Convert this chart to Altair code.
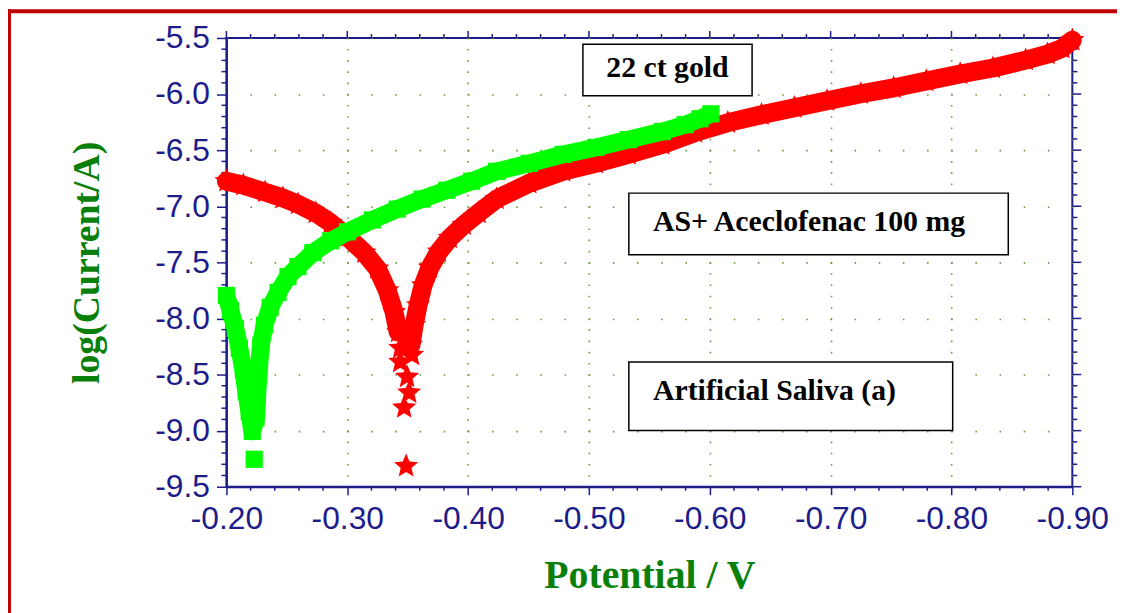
import altair as alt
import pandas as pd

# ---------------- data ----------------
# Red series (stars)
red_left_V = [-0.2000, -0.2140, -0.2320, -0.2468, -0.2592, -0.2739, -0.2863, -0.3002, -0.3142, -0.3249, -0.3331, -0.3388, -0.3421]
red_left_I = [-6.777, -6.812, -6.874, -6.927, -6.981, -7.060, -7.149, -7.273, -7.414, -7.556, -7.750, -7.945, -8.122]
red_tip_V = [-0.3438, -0.3536, -0.3438, -0.3495, -0.3512, -0.3471, -0.3487]
red_tip_I = [-8.264, -8.326, -8.388, -8.521, -8.662, -8.795, -9.317]
red_right_V = [-0.3528, -0.3553, -0.3586, -0.3627, -0.3684, -0.3758, -0.3849, -0.3964, -0.4087, -0.4235,
               -0.4506, -0.4785, -0.5056, -0.5327, -0.5607, -0.5878, -0.6149, -0.6428, -0.6700, -0.6971,
               -0.7250, -0.7521, -0.7792, -0.8072, -0.8343, -0.8614, -0.8795, -0.8918, -0.9000]
red_right_I = [-8.237, -8.060, -7.883, -7.706, -7.547, -7.405, -7.282, -7.166, -7.060, -6.936,
               -6.795, -6.688, -6.617, -6.538, -6.450, -6.343, -6.255, -6.184, -6.122, -6.060,
               -5.998, -5.945, -5.883, -5.821, -5.768, -5.697, -5.644, -5.591, -5.520]

# Green series (squares)
green_left_V = [-0.2000, -0.2033, -0.2074, -0.2107, -0.2140, -0.2164, -0.2189, -0.2214]
green_left_I = [-7.795, -7.929, -8.088, -8.265, -8.459, -8.654, -8.831, -9.007]
green_tip_V = [-0.2230]
green_tip_I = [-9.255]
green_right_V = [-0.2245, -0.2255, -0.2268, -0.2285, -0.2315, -0.2362, -0.2427, -0.2509, -0.2592, -0.2715,
                 -0.2863, -0.3002, -0.3208, -0.3413, -0.3619, -0.3824, -0.4029, -0.4235, -0.4506, -0.4785,
                 -0.5056, -0.5327, -0.5607, -0.5796, -0.5919, -0.6009]
green_right_I = [-8.884, -8.680, -8.459, -8.237, -8.060, -7.901, -7.768, -7.627, -7.538, -7.414,
                 -7.308, -7.228, -7.122, -7.025, -6.936, -6.857, -6.777, -6.689, -6.618, -6.538,
                 -6.476, -6.406, -6.334, -6.273, -6.220, -6.176]

# Annotation boxes (data units)
ann_text = ["22 ct gold", "AS+ Aceclofenac 100 mg", "Artificial Saliva (a)"]
box_V1 = [-0.495, -0.533, -0.533]
box_V2 = [-0.635, -0.847, -0.801]
box_L1 = [-5.556, -6.883, -8.388]
box_L2 = [-6.016, -7.432, -8.998]
text_V = [-0.565, -0.553, -0.553]
text_L = [-5.848, -7.225, -8.730]
text_align = ["center", "left", "left"]

# Axis tick values
x_major = [-0.20, -0.30, -0.40, -0.50, -0.60, -0.70, -0.80, -0.90]
x_minor = [round(-0.20 - 0.02 * k, 2) for k in range(36) if k % 5 != 0]
y_major = [-9.5, -9.0, -8.5, -8.0, -7.5, -7.0, -6.5, -6.0, -5.5]
y_minor = [round(-9.5 + 0.1 * k, 1) for k in range(41) if k % 5 != 0]

# ---------------- build tables ----------------
def piece(V, I):
    return pd.DataFrame({"V": V, "logI": I, "i": list(range(len(V)))})

red_pts = pd.DataFrame({"V": red_left_V + red_tip_V + red_right_V,
                        "logI": red_left_I + red_tip_I + red_right_I})
green_pts = pd.DataFrame({"V": green_left_V + green_tip_V + green_right_V,
                          "logI": green_left_I + green_tip_I + green_right_I})
ann = pd.DataFrame({"text": ann_text, "v1": box_V1, "v2": box_V2, "l1": box_L1, "l2": box_L2,
                    "tv": text_V, "tl": text_L, "al": text_align})

W, H = 852, 452
NAVY = "#1c1c8a"
GRIDC = "#6e9a3c"
TITLEC = "#0a800a"
STAR = ("M0,-1L0.2645,-0.3641L0.9511,-0.309L0.428,0.1391L0.5878,0.809L0,0.45"
        "L-0.5878,0.809L-0.428,0.1391L-0.9511,-0.309L-0.2645,-0.3641Z")

xs = alt.Scale(domain=[-0.9, -0.2], reverse=True, nice=False, zero=False)
ys = alt.Scale(domain=[-9.5, -5.5], nice=False, zero=False)

x_axis = alt.Axis(
    orient="bottom", values=x_major,
    labelExpr="'-' + format(abs(datum.value), '.2f')",
    labelFont="Liberation Sans", labelFontSize=32, labelColor=NAVY, labelPadding=9,
    labelFlush=False, labelOverlap=False,
    tickSize=8, tickWidth=1.5, tickColor=NAVY,
    domainColor=NAVY, domainWidth=2,
    grid=True, gridColor=GRIDC, gridWidth=1.6, gridDash=[1.6, 9.7], gridDashOffset=0.8,
    title="Potential / V", titleFont="Liberation Serif", titleFontWeight="bold",
    titleFontSize=40, titleColor=TITLEC, titleBaseline="alphabetic", titleY=101,
)
y_axis = alt.Axis(
    orient="left", values=y_major,
    labelExpr="'-' + format(abs(datum.value), '.1f')",
    labelFont="Liberation Sans", labelFontSize=32, labelColor=NAVY, labelPadding=7,
    labelFlush=False, labelOverlap=False,
    tickSize=10, tickWidth=1.5, tickColor=NAVY,
    domainColor=NAVY, domainWidth=2,
    grid=True, gridColor=GRIDC, gridWidth=1.6, gridDash=[1.6, 22.74], gridDashOffset=0.8,
    title="log(Current/A)", titleFont="Liberation Serif", titleFontWeight="bold",
    titleFontSize=38, titleColor=TITLEC, titleAngle=270, titleBaseline="middle",
    titleX=-140, titleY=226,
)

# other layers share the same scales and leave the axes to the first layer
def X(f):
    return alt.X(f, scale=xs)

def Y(f):
    return alt.Y(f, scale=ys)

def band(V, I, color, width, cap):
    return alt.Chart(piece(V, I)).mark_line(
        color=color, strokeWidth=width, strokeCap=cap, strokeJoin="round"
    ).encode(x=X("V:Q"), y=Y("logI:Q"), order="i:Q")

red_line_l = band(red_left_V, red_left_I, "#ff0000", 19, "round")
red_line_r = band(red_right_V, red_right_I, "#ff0000", 19, "round")
green_line = band(green_left_V + green_right_V, green_left_I + green_right_I, "#00ff00", 18, "butt")

red_star = alt.Chart(red_pts).mark_point(
    shape=STAR, filled=True, color="#ff0000", size=650, opacity=1
).encode(x=X("V:Q"), y=Y("logI:Q"))
green_sq = alt.Chart(green_pts).mark_point(
    shape="square", filled=True, color="#00ff00", size=300, opacity=1
).encode(x=X("V:Q"), y=Y("logI:Q"))

# carrier layer for the axes (first layer, holds the grid + axes)
axis_layer = alt.Chart(pd.DataFrame({"t": x_major[:1], "u": y_major[:1]})).mark_point(
    opacity=0
).encode(
    x=alt.X("t:Q", scale=xs, axis=x_axis),
    y=alt.Y("u:Q", scale=ys, axis=y_axis),
)

boxes = alt.Chart(ann).mark_rect(fill="white", stroke="black", strokeWidth=1.5).encode(
    x=X("v1:Q"), x2="v2:Q", y=Y("l1:Q"), y2="l2:Q",
)
labels_l = alt.Chart(ann).transform_filter("datum.al == 'left'").mark_text(
    font="Liberation Serif", fontWeight="bold", fontSize=30, color="black",
    align="left", baseline="alphabetic"
).encode(x=X("tv:Q"), y=Y("tl:Q"), text="text:N")
labels_c = alt.Chart(ann).transform_filter("datum.al == 'center'").mark_text(
    font="Liberation Serif", fontWeight="bold", fontSize=30, color="black",
    align="center", baseline="alphabetic"
).encode(x=X("tv:Q"), y=Y("tl:Q"), text="text:N")

# frame ticks (minor + mirrored)
xmaj_df = pd.DataFrame({"t": x_major})
xmin_df = pd.DataFrame({"t": x_minor})
ymaj_df = pd.DataFrame({"u": y_major})
ymin_df = pd.DataFrame({"u": y_minor})
tk = dict(color=NAVY, strokeWidth=1.5)
bottom_minor = alt.Chart(xmin_df).mark_rule(**tk).encode(x=X("t:Q"), y=alt.value(H), y2=alt.value(H + 4))
top_minor = alt.Chart(xmin_df).mark_rule(**tk).encode(x=X("t:Q"), y=alt.value(0), y2=alt.value(-4))
top_major = alt.Chart(xmaj_df).mark_rule(**tk).encode(x=X("t:Q"), y=alt.value(0), y2=alt.value(-7))
left_minor = alt.Chart(ymin_df).mark_rule(**tk).encode(y=Y("u:Q"), x=alt.value(0), x2=alt.value(-5))
right_minor = alt.Chart(ymin_df).mark_rule(**tk).encode(y=Y("u:Q"), x=alt.value(W), x2=alt.value(W + 5))
right_major = alt.Chart(ymaj_df).mark_rule(**tk).encode(y=Y("u:Q"), x=alt.value(W), x2=alt.value(W + 9))

one = pd.DataFrame({"a": [0]})
border_top = alt.Chart(one).mark_rule(color="#c00000", strokeWidth=4).encode(
    x=alt.value(-221), x2=alt.value(1000), y=alt.value(-27)
)
border_left = alt.Chart(one).mark_rule(color="#c00000", strokeWidth=4).encode(
    x=alt.value(-219), y=alt.value(-29), y2=alt.value(700)
)

chart = alt.layer(
    axis_layer,
    bottom_minor, top_minor, top_major, left_minor, right_minor, right_major,
    red_line_l, red_line_r, red_star, green_line, green_sq,
    boxes, labels_l, labels_c, border_top, border_left,
).properties(
    width=W, height=H,
    padding={"left": 220, "top": 28, "right": 45, "bottom": 125},
    autosize="none",
).configure(background="white").configure_view(stroke=NAVY, strokeWidth=2)

chart.save("out.html", embed_options={"renderer": "svg", "actions": False})
